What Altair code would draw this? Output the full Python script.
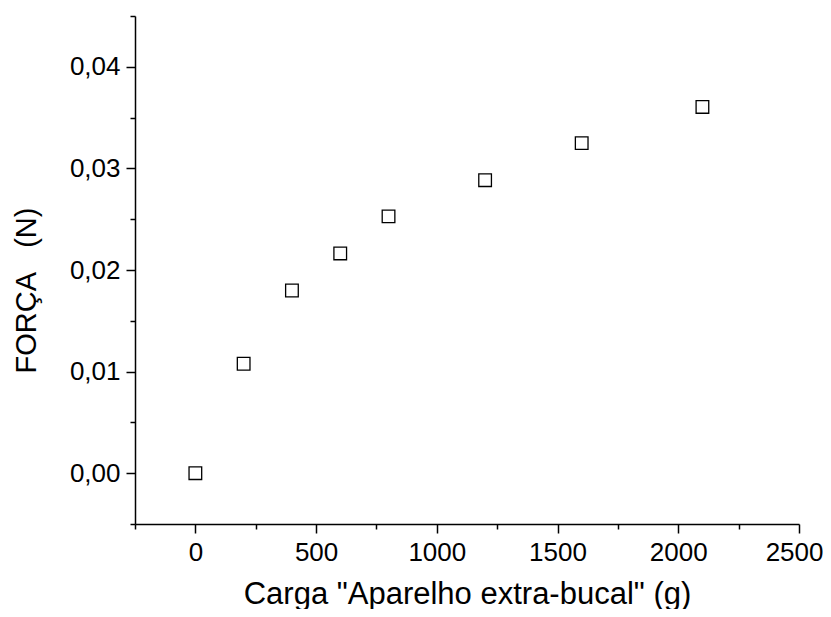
import altair as alt
import pandas as pd

carga = [0, 200, 400, 600, 800, 1200, 1600, 2100]
forca = [0.0, 0.01077, 0.01798, 0.02163, 0.02528, 0.02884, 0.03249, 0.03605]

x_ticks = [-250, 0, 250, 500, 750, 1000, 1250, 1500, 1750, 2000, 2250, 2500]
y_ticks = [-0.005, 0.0, 0.005, 0.01, 0.015, 0.02, 0.025, 0.03, 0.035, 0.04, 0.045]

df = pd.DataFrame({"carga": carga, "forca": forca})

FONT = "Liberation Sans"

x_axis = alt.Axis(
    title='Carga "Aparelho extra-bucal" (g)',
    values=x_ticks,
    grid=False,
    domainColor="black",
    domainWidth=1.5,
    tickColor="black",
    tickWidth=1.5,
    tickSize={"condition": {"test": "datum.value % 500 === 0", "value": 9}, "value": 5},
    labelExpr="datum.value % 500 === 0 ? '' + datum.value : ''",
    labelFont=FONT,
    labelFontSize=26,
    labelColor="black",
    labelPadding=6,
    labelFlush=True,
    labelFlushOffset=24,
    labelOverlap=False,
    titleFont=FONT,
    titleFontSize=31,
    titleFontWeight="normal",
    titleColor="black",
    titleBaseline="alphabetic",
    titleY=79,
)

y_axis = alt.Axis(
    title="FORÇA\u00a0\u00a0\u00a0(N)",
    values=y_ticks,
    grid=False,
    domainColor="black",
    domainWidth=1.5,
    tickColor="black",
    tickWidth=1.5,
    tickSize={"condition": {"test": "abs(datum.value*100 - round(datum.value*100)) < 1e-6", "value": 9}, "value": 5},
    labelExpr="abs(datum.value*100 - round(datum.value*100)) < 1e-6 ? replace(format(datum.value, '.2f'), '.', ',') : ''",
    labelFont=FONT,
    labelFontSize=26,
    labelColor="black",
    labelPadding=6,
    labelFlush=False,
    labelOverlap=False,
    titleFont=FONT,
    titleFontSize=29,
    titleFontWeight="normal",
    titleColor="black",
    titleAngle=270,
    titleAlign="center",
    titleBaseline="alphabetic",
    titleX=-100,
    titleY=274,
)

chart = (
    alt.Chart(df)
    .mark_point(shape="square", filled=True, fill="white", stroke="black", strokeWidth=1.3, size=160, opacity=1)
    .encode(
        x=alt.X("carga:Q", scale=alt.Scale(domain=[-250, 2500], nice=False, zero=False), axis=x_axis),
        y=alt.Y("forca:Q", scale=alt.Scale(domain=[-0.005, 0.045], nice=False, zero=False), axis=y_axis),
    )
    .properties(
        width=664,
        height=508,
        autosize=alt.AutoSizeParams(type="none"),
        padding={"left": 127, "top": 8, "right": 24, "bottom": 85},
        view=alt.ViewBackground(stroke="white", strokeOpacity=0, strokeWidth=0),
    )
    .configure_view(stroke="white", strokeOpacity=0, strokeWidth=0)
    .configure(background="white")
)

chart.save("out.html", embed_options={"renderer": "svg", "actions": False})
